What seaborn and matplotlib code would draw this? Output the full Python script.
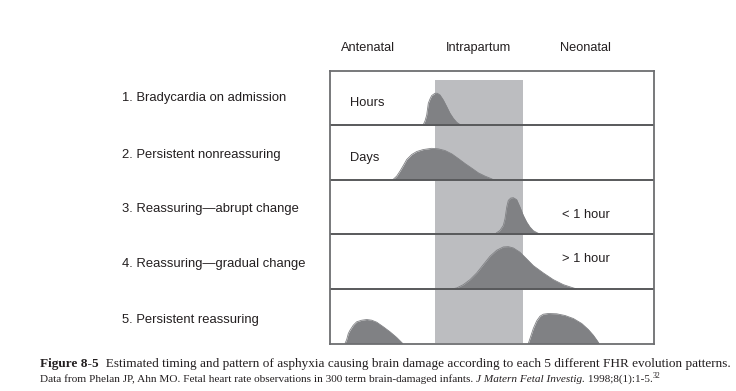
import matplotlib
matplotlib.use("Agg")
import matplotlib.pyplot as plt
import seaborn as sns
import pandas as pd

# ---------------- data (timeline units: 0..324 across the box; heights in same units) ----
phases = ["Antenatal", "Intrapartum", "Neonatal"]
phase_label_x = [38, 148, 255]
intrapartum_span = [105, 193]

row_labels = ["1. Bradycardia on admission", "2. Persistent nonreassuring",
              "3. Reassuring\u2014abrupt change", "4. Reassuring\u2014gradual change",
              "5. Persistent reassuring"]

duration_labels = ["Hours", "Days", "< 1 hour", "> 1 hour", ""]
duration_x = [20, 20, 232, 232, 0]

# curve 1: bradycardia on admission
c1_x = [93, 95, 96.7, 98.3, 100, 101.7, 105, 107.3, 110, 113.3, 116.7, 120, 123.3, 126.7, 130, 130.7]
c1_h = [0, 4.3, 10.3, 22, 26.3, 29.7, 32, 32, 30.3, 25.3, 18.7, 12, 7, 3, 0.7, 0]
# curve 2: persistent nonreassuring
c2_x = [62.7, 66.7, 70, 73.3, 76.7, 81.7, 86.7, 93.3, 101.7, 108.3, 115, 121.7, 128.3, 135, 141.7, 148.3, 155, 161.7, 163.3]
c2_h = [0, 3.7, 8.7, 14.3, 20.3, 25.3, 28.3, 30.3, 31.5, 31, 29.3, 26, 21.3, 16.3, 11.7, 7, 3.7, 1, 0]
# curve 3: reassuring, abrupt change
c3_x = [165, 166.7, 170, 173.3, 175, 176.7, 178.3, 180.7, 183.3, 186.7, 190, 193.3, 196.7, 200, 203.3, 208.3, 210]
c3_h = [0, 1.7, 4, 9, 15.7, 27.3, 34, 36.3, 36.7, 34.7, 27.3, 19, 12.3, 7.3, 3.7, 1, 0]
# curve 4: reassuring, gradual change
c4_x = [121.7, 126.7, 133.3, 140, 146.7, 153.3, 160, 166.7, 173.3, 178.3, 183.3, 190, 196.7, 203.3, 213.3, 223.3, 233.3, 243.3, 246.7]
c4_h = [0, 1, 4.3, 9.3, 16, 24.3, 32.7, 38.7, 42, 42.3, 41, 36.7, 30, 23.3, 16, 9.3, 4.3, 1, 0]
# curve 5a / 5b: persistent reassuring (antenatal and neonatal bumps)
c5a_x = [15, 16.7, 18.3, 20, 23.3, 26.7, 31.7, 36.7, 41.7, 46.7, 53.3, 60, 66.7, 71.7, 72.7]
c5a_h = [0, 4, 10, 13.3, 18.3, 21.7, 23.3, 24, 23.3, 21.3, 16.7, 11.7, 6, 1, 0]
c5b_x = [198.3, 200, 203.3, 206.7, 210, 213.3, 218.3, 226.7, 235, 243.3, 251.7, 258.3, 263.3, 267.3, 269]
c5b_h = [0, 5, 15, 22.7, 27.3, 29.3, 30, 29.7, 28, 25, 20, 14, 8.3, 2.7, 0]

curves = [(0, c1_x, c1_h), (1, c2_x, c2_h), (2, c3_x, c3_h), (3, c4_x, c4_h),
          (4, c5a_x, c5a_h), (4, c5b_x, c5b_h)]

# ---------------- figure ----------------
sns.set_theme(style="white")
plt.rcParams["font.family"] = ["Liberation Sans", "DejaVu Sans"]

W, H = 736, 391
fig = plt.figure(figsize=(W / 100, H / 100), dpi=100)
box_l, box_r, box_t, box_b = 330, 654, 70.7, 343.5
ax = fig.add_axes([box_l / W, 1 - box_b / H, (box_r - box_l) / W, (box_b - box_t) / H])
XMAX, YMAX = box_r - box_l, box_b - box_t
ax.set_xlim(0, XMAX)
ax.set_ylim(0, YMAX)
nrows = len(row_labels)
row_h = YMAX / nrows

band_top = YMAX - 9.3
ax.fill_between(intrapartum_span, 0, band_top, color="#bcbdc0", lw=0, zorder=1)

records = []
for k, (row, xs, hs) in enumerate(curves):
    base = YMAX - (row + 1) * row_h
    for x, h in zip(xs, hs):
        records.append({"curve": k, "x": x, "y": base + h, "base": base})
df = pd.DataFrame(records)
for k, g in df.groupby("curve"):
    ax.fill_between(g["x"], g["base"], g["y"], color="#808184", lw=0, zorder=2)
sns.lineplot(data=df, x="x", y="y", units="curve", estimator=None, color="#808184",
             lw=0.6, ax=ax, legend=False, zorder=3, sort=False)

for i in range(1, nrows):
    ax.axhline(YMAX - i * row_h, color="#58595b", lw=1.4, zorder=4)

for s in ax.spines.values():
    s.set_color("#6d6e71")
    s.set_linewidth(1.3)
    s.set_zorder(5)
ax.set_xticks([])
ax.set_yticks([])
ax.set_xlabel("")
ax.set_ylabel("")

txt_color = "#231f20"
dy = 1.8  # small downward nudge for sans labels
# phase headers
for name, px in zip(phases, phase_label_x):
    fig.text((box_l + px) / W, 1 - (46 + dy) / H, name, ha="center", va="center",
             fontsize=9.2, color=txt_color)

# row labels
row_label_y = [96.7, 152.7, 207.7, 262.7, 317.7]
for lab, py in zip(row_labels, row_label_y):
    fig.text(121.7 / W, 1 - (py + dy) / H, lab, ha="left", va="center", fontsize=9.4,
             color=txt_color)

dur_y = [100.7, 156, 213.3, 256.7, 0]
for lab, px, py in zip(duration_labels, duration_x, dur_y):
    if lab:
        fig.text((box_l + px) / W, 1 - (py + dy) / H, lab, ha="left", va="center",
                 fontsize=9.3, color=txt_color)

# ---------------- caption ----------------
renderer = fig.canvas.get_renderer()


def place_runs(runs, x0, yc, target_w, base_size):
    def layout(size):
        x = x0
        objs = []
        for text, style in runs:
            kw = dict(family=["Liberation Serif", "DejaVu Serif"], color=txt_color)
            fs = size
            y = yc
            if style == "bold":
                kw["weight"] = "bold"
            elif style == "italic":
                kw["style"] = "italic"
            elif style == "sup":
                fs = size * 0.7
                y = yc - size * 0.4
            t = fig.text(x / W, 1 - y / H, text, ha="left", va="center", fontsize=fs, **kw)
            bb = t.get_window_extent(renderer)
            x += bb.width
            objs.append(t)
        return objs, x - x0
    objs, w = layout(base_size)
    for o in objs:
        o.remove()
    size = base_size * target_w / w
    layout(size)


line1 = [("Figure 8-5", "bold"),
         ("  Estimated timing and pattern of asphyxia causing brain damage according to each 5 different FHR evolution patterns.", "normal")]
line2 = [("Data from Phelan JP, Ahn MO. Fetal heart rate observations in 300 term brain-damaged infants. ", "normal"),
         ("J Matern Fetal Investig.", "italic"),
         (" 1998;8(1):1-5.", "normal"),
         ("32", "sup")]
place_runs(line1, 40, 364, 687, 8.5)
place_runs(line2, 40, 379.3, 628, 7)

fig.savefig("out.png", dpi=100)
